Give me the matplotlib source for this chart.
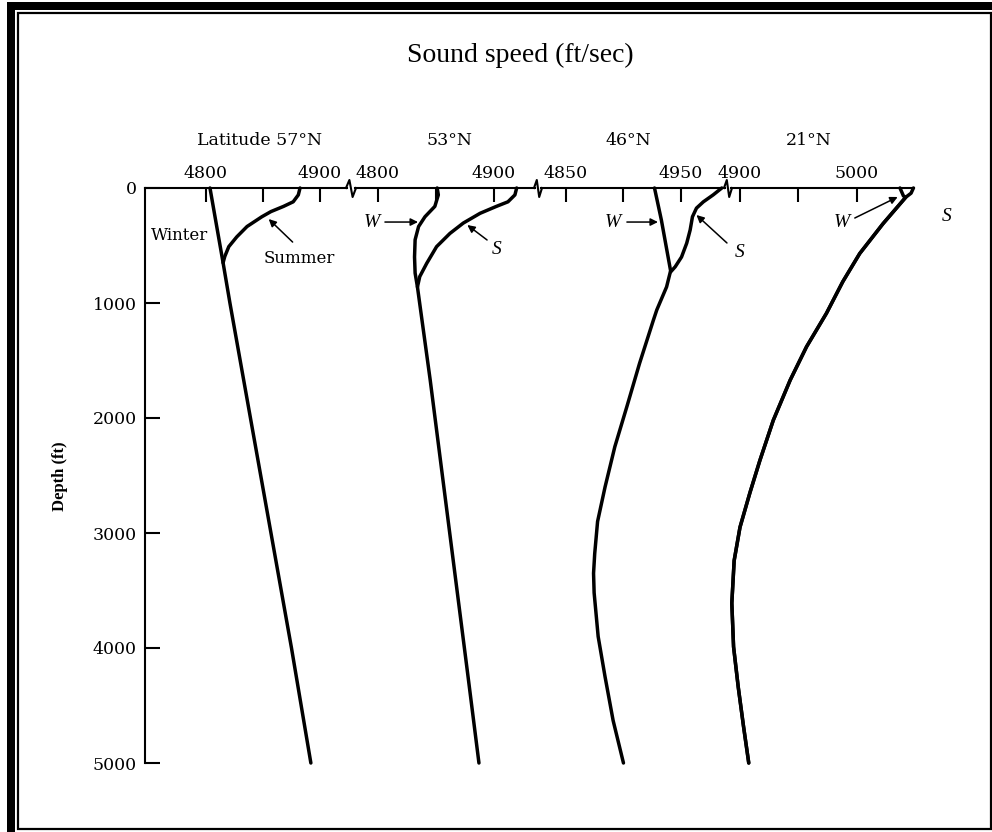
import matplotlib.pyplot as plt
from matplotlib.patches import Rectangle
from matplotlib.lines import Line2D

# ---- data (depth in ft, sound speed in ft/sec) ----
depth_57w = [0, 650, 1000, 2000, 3000, 4000, 5000]
speed_57w = [4803.5, 4815, 4821, 4839, 4857, 4875, 4892]
depth_57s = [0, 60, 120, 160, 205, 250, 335, 425, 510, 595, 650]
speed_57s = [4882.5, 4881, 4876.5, 4868, 4857, 4849, 4836, 4827, 4820, 4816.5, 4815]

depth_53w = [0, 60, 160, 250, 335, 450, 600, 740, 860, 1670, 2540, 3410, 4280, 5000]
speed_53w = [4851, 4852, 4849, 4840.5, 4835, 4832, 4831.5, 4832, 4834, 4845, 4856, 4867, 4878, 4887]
depth_53s = [0, 60, 120, 160, 220, 305, 395, 510, 655, 770, 860]
speed_53s = [4919.5, 4918, 4912, 4902, 4888, 4873.5, 4862, 4850.5, 4842, 4836, 4834]

depth_46w = [0, 280, 720, 860, 1060, 1150, 1525, 1900, 2250, 2600, 2900,
             3180, 3350, 3520, 3900, 4250, 4630, 5000]
speed_46w = [4927, 4933, 4941, 4937.5, 4929, 4926, 4914, 4903, 4892.5, 4884, 4877.5,
             4875, 4874, 4874.5, 4878, 4884, 4891, 4900]
depth_46s = [0, 60, 120, 175, 250, 365, 480, 600, 685, 730]
speed_46s = [4985.5, 4978, 4969.5, 4963.5, 4960, 4958, 4955, 4950.5, 4945, 4941]

depth_21deep = [80, 310, 570, 815, 1090, 1380, 1670, 2020, 2370, 2650, 2950,
                3240, 3610, 3990, 4340, 4680, 5000]
speed_21deep = [5042, 5022.5, 5002.5, 4988, 4974, 4957, 4943, 4928.5, 4917, 4908.5, 4900,
                4895, 4893, 4894.5, 4898.5, 4903, 4907.5]
depth_21w = [0, 70] + depth_21deep
speed_21w = [5037, 5040] + speed_21deep
depth_21s = [0, 45] + depth_21deep
speed_21s = [5048.5, 5046.5] + speed_21deep

latitudes = ['Latitude 57°N', '53°N', '46°N', '21°N']
xticks = [[4800, 4850, 4900], [4800, 4850, 4900], [4850, 4900, 4950], [4900, 4950, 5000]]
xticklabels = [['4800', '', '4900'], ['4800', '', '4900'],
               ['4850', '', '4950'], ['4900', '', '5000']]
xlims = [(4746.5, 4923.7), (4780.2, 4935.3), (4828.3, 4988.3), (4892.3, 5049.0)]
depth_ticks = [0, 1000, 2000, 3000, 4000, 5000]

# ---- layout in reference pixels ----
W, H = 992, 832
fig = plt.figure(figsize=(W / 100, H / 100), dpi=100)
fig.patch.set_facecolor('white')


def fx(px):
    return px / W


def fy(py):
    return 1 - py / H


top_px, bot_px = 188, 763
panel_px = [(145, 347), (355, 535), (541, 725), (731, 914)]
num_font = 'DejaVu Serif'
lw_curve = 2.5
lw_axis = 1.5

axes = []
for i, (l, r) in enumerate(panel_px):
    ax = fig.add_axes([fx(l), fy(bot_px), (r - l) / W, (bot_px - top_px) / H])
    ax.set_xlim(*xlims[i])
    ax.set_ylim(5000, 0)
    ax.patch.set_alpha(0)
    for side in ['bottom', 'right']:
        ax.spines[side].set_visible(False)
    ax.spines['top'].set_linewidth(lw_axis)
    ax.spines['left'].set_linewidth(lw_axis)
    if i > 0:
        ax.spines['left'].set_visible(False)
        ax.set_yticks([])
    else:
        ax.set_yticks(depth_ticks)
        ax.set_yticklabels([str(d) for d in depth_ticks], fontfamily=num_font)
        ax.tick_params(axis='y', direction='in', length=11, width=lw_axis,
                       pad=6, labelsize=12.5)
    ax.xaxis.tick_top()
    ax.set_xticks(xticks[i])
    ax.set_xticklabels(xticklabels[i], fontfamily=num_font)
    ax.tick_params(axis='x', direction='in', length=10, width=lw_axis,
                   pad=4, labelsize=12.5)
    axes.append(ax)

line_kw = dict(color='black', lw=lw_curve, solid_capstyle='round',
               solid_joinstyle='round', clip_on=False)
axes[0].plot(speed_57w, depth_57w, **line_kw)
axes[0].plot(speed_57s, depth_57s, **line_kw)
axes[1].plot(speed_53w, depth_53w, **line_kw)
axes[1].plot(speed_53s, depth_53s, **line_kw)
axes[2].plot(speed_46w, depth_46w, **line_kw)
axes[2].plot(speed_46s, depth_46s, **line_kw)
axes[3].plot(speed_21w, depth_21w, **line_kw)
axes[3].plot(speed_21s, depth_21s, **line_kw)

# axis break marks
for l, r in [(347, 355), (535, 541), (725, 731)]:
    w = r - l
    xs = [l - 1, l + 0.3 * w, l + 0.7 * w, r + 1]
    ys = [top_px, top_px - 8, top_px + 9, top_px]
    fig.add_artist(Line2D([fx(x) for x in xs], [fy(y) for y in ys],
                          color='black', lw=lw_axis, transform=fig.transFigure))

# labels
fig.text(fx(520), fy(62), 'Sound speed (ft/sec)', ha='center', va='baseline',
         fontsize=20, fontfamily='Liberation Serif')
for lab, cx in zip(latitudes, [260, 450, 628, 809]):
    fig.text(fx(cx), fy(145), lab, ha='center', va='baseline',
             fontsize=12.5, fontfamily=num_font)
fig.text(fx(60), fy(476), 'Depth (ft)', ha='center', va='center', rotation=90,
         fontsize=12, fontweight='bold', fontfamily='Liberation Serif')

# annotations
arrow = dict(arrowstyle='-|>', color='black', lw=1.1, mutation_scale=11,
             shrinkA=0, shrinkB=0)
ital = dict(fontsize=14, fontfamily='Liberation Serif', style='italic',
            ha='center', va='center')
axes[0].text(4777, 409, 'Winter', fontsize=12, fontfamily=num_font,
             ha='center', va='center')
axes[0].text(4881.5, 617, 'Summer', fontsize=12, fontfamily=num_font,
             ha='center', va='center')
axes[0].annotate('', xy=(4855, 270), xytext=(4876, 470), arrowprops=arrow)

axes[1].text(4794.8, 296, 'W', **ital)
axes[1].annotate('', xy=(4834.5, 296), xytext=(4806, 296), arrowprops=arrow)
axes[1].text(4902.6, 539, 'S', **ital)
axes[1].annotate('', xy=(4877, 322), xytext=(4894, 452), arrowprops=arrow)

axes[2].text(4890.9, 296, 'W', **ital)
axes[2].annotate('', xy=(4930, 296), xytext=(4903, 296), arrowprops=arrow)
axes[2].text(5001.3, 557, 'S', **ital)
axes[2].annotate('', xy=(4963.5, 235), xytext=(4990, 478), arrowprops=arrow)

axes[3].text(4987.2, 296, 'W', **ital)
axes[3].annotate('', xy=(5035, 78), xytext=(4998.3, 261), arrowprops=arrow)
axes[3].text(5077, 252, 'S', **ital)
axes[3].annotate('', xy=(5049.6, 87), xytext=(5066.7, 270), arrowprops=arrow)

# page frame: heavy bars on the left and top, thin inner box
fig.add_artist(Rectangle((fx(7), 0), 8 / W, (H - 2) / H, transform=fig.transFigure,
                         facecolor='black', edgecolor='none'))
fig.add_artist(Rectangle((fx(7), fy(10)), (W - 7) / W, 8 / H, transform=fig.transFigure,
                         facecolor='black', edgecolor='none'))
fig.add_artist(Rectangle((fx(18), fy(829)), (991 - 18) / W, (829 - 13) / H,
                         transform=fig.transFigure, facecolor='none',
                         edgecolor='black', lw=1.6))

fig.savefig('out.png', dpi=100, facecolor='white')
